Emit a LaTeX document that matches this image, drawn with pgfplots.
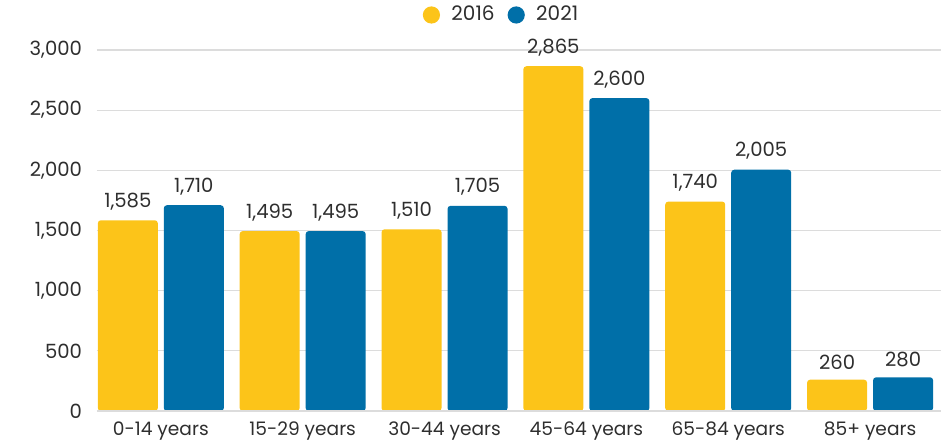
\documentclass[border=0pt]{standalone}
\usepackage{pgfplots}
\pgfplotsset{compat=1.18}
\usepackage{fontspec}
\setmainfont{Poppins}
\definecolor{cyel}{HTML}{FCC419}
\definecolor{cblue}{HTML}{006FA8}
\definecolor{ctext}{HTML}{2E2E2E}
\definecolor{cgrid}{HTML}{DCDCDC}
\begin{document}
\begin{tikzpicture}[x=1pt,y=1pt]
\useasboundingbox (-48.5,-15.5) rectangle (422,205.5);
\begin{axis}[
  at={(0,0)}, anchor=south west,
  scale only axis, width=422pt, height=180.5pt,
  ybar=3pt, bar width=30pt,
  xmin=-0.45, xmax=5.5, ymin=0, ymax=3000,
  xtick=data,
  xticklabels={0-14 years,15-29 years,30-44 years,45-64 years,65-84 years,85+ years},
  ytick={0,500,...,3000},
  axis line style={draw=none},
  axis x line*=bottom,
  major tick length=0pt,
  ymajorgrids, grid style={cgrid, line width=0.6pt},
  tick label style={font=\fontsize{9.3}{11}\selectfont, text=ctext},
  yticklabel style={font=\fontsize{9.8}{11}\selectfont, xshift=-4pt},
  /pgf/number format/assume math mode=true,
  /pgf/number format/1000 sep={,},
  xticklabel style={yshift=-2pt},
  nodes near coords,
  nodes near coords style={font=\fontsize{9.8}{11}\selectfont, text=ctext, /pgf/number format/assume math mode=true, /pgf/number format/1000 sep={,}, yshift=1.5pt},
  every axis plot/.append style={draw=none, rounded corners=1.5pt},
  legend columns=2,
  legend style={draw=none, at={(202pt,198pt)}, anchor=center, font=\fontsize{10}{12}\selectfont, text=ctext, /tikz/every even column/.append style={column sep=3pt}},
  legend image code/.code={\fill[#1] (0,0) circle (4.3pt); \path (-5.8pt,0) (8pt,0);},
  clip=false,
]
\addplot[fill=cyel] coordinates {(0,1585) (1,1495) (2,1510) (3,2865) (4,1740) (5,260)};
\addplot[fill=cblue] coordinates {(0,1710) (1,1495) (2,1705) (3,2600) (4,2005) (5,280)};
\legend{2016,2021}
\draw[cgrid, line width=0.8pt] (axis cs:-0.45,0) -- (axis cs:5.5,0);
\end{axis}
\end{tikzpicture}
\end{document}
